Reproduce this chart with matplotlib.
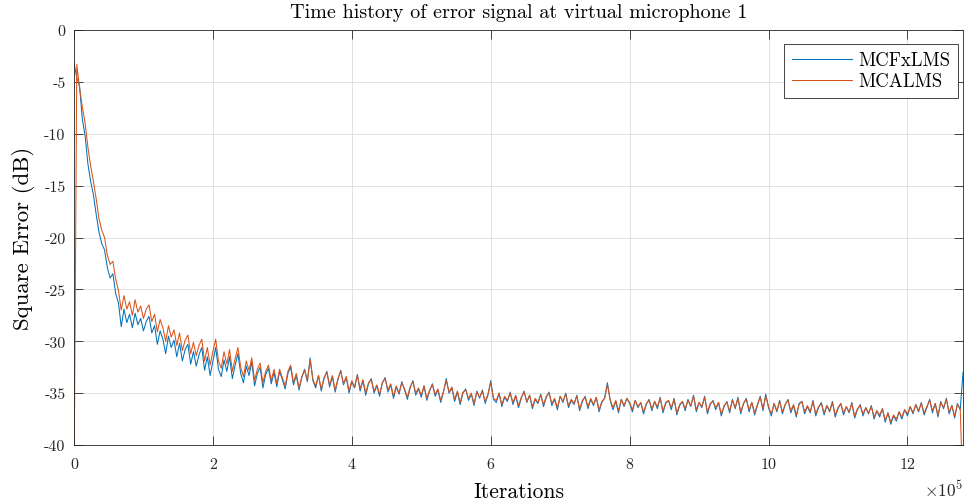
import numpy as np
import matplotlib
matplotlib.use("Agg")
import matplotlib.pyplot as plt

# ---- data ----
step = 4000  # iterations between samples
mcfxlms = [
    -3.2, -4.6, -5.4, -8.6, -10.2, -12.9, -14.6, -15.9, -17.8, -19.5,
    -20.6, -21.2, -22.9, -23.9, -23.5, -25.4, -26.3, -28.6, -26.9, -28.2,
    -27.4, -28.7, -27.3, -28.4, -27.8, -29.0, -28.1, -27.6, -29.2, -28.5,
    -30.3, -29.0, -29.8, -31.2, -29.5, -30.6, -29.9, -31.5, -30.2, -31.9,
    -30.8, -30.3, -32.2, -31.0, -32.4, -31.3, -30.6, -32.8, -31.5, -33.3,
    -31.9, -30.6, -32.7, -33.4, -31.8, -32.9, -31.5, -33.6, -32.3, -31.2,
    -33.1, -34.0, -32.4, -33.3, -32.0, -34.3, -33.1, -32.5, -34.5, -33.2,
    -32.6, -34.1, -33.0, -34.4, -32.9, -33.7, -34.6, -33.1, -32.5, -34.2,
    -33.3,
    -34.7, -33.5, -32.7, -33.9, -31.6, -33.8, -34.5, -33.3, -34.8, -33.6,
    -32.9, -34.4, -33.4, -34.9, -33.7, -32.8, -34.2, -33.5, -35.0, -33.9,
    -34.5, -33.2, -34.8, -33.8, -35.2, -34.1, -33.6, -35.0, -34.3, -35.3,
    -34.0, -33.5, -34.9, -34.2, -35.5, -34.4, -35.1, -33.9, -34.7, -35.6,
    -34.5, -33.8, -35.2, -34.6, -35.4, -34.3, -35.7, -34.8, -34.1, -35.3,
    -34.7, -35.9, -34.9, -33.6, -35.0, -34.5, -35.8, -34.9, -36.1, -35.0,
    -34.6, -35.7, -35.1, -36.2, -34.8, -35.5, -34.7, -36.0, -35.2, -33.8,
    -35.6, -35.9, -35.0, -36.3, -35.4, -35.8, -34.9, -36.1, -35.3, -36.4,
    -35.5, -34.8, -35.9, -35.2, -36.5, -35.6, -36.0, -35.1, -36.3, -35.4,
    -34.9, -36.2, -35.6, -36.6, -35.3, -35.9, -35.0, -36.4, -35.7, -36.1,
    -35.2, -36.7, -35.8, -35.3, -36.5, -35.6, -36.2, -35.4, -36.8, -35.9,
    -35.5, -34.0, -35.7, -36.6, -35.8, -36.9, -35.6, -36.3, -35.5, -36.0,
    -36.8, -35.7, -36.4, -35.9, -37.0, -36.1, -35.6, -36.7, -35.8, -36.5,
    -35.4, -36.9, -36.0, -35.7, -36.6, -35.5, -37.1, -36.2, -35.8, -36.7,
    -35.6, -36.3, -35.2, -36.8, -35.9, -36.4, -35.3, -37.0, -36.1, -35.7,
    -36.6, -35.9, -37.2, -36.3, -35.8, -36.9, -35.6, -36.5, -35.4, -37.0,
    -36.0, -35.5, -36.8, -35.9, -37.1, -36.2, -35.3, -36.7, -35.1, -36.4,
    -37.2, -36.0, -36.8, -35.7, -37.0, -36.1, -35.6, -36.9, -36.2, -37.3,
    -36.0, -35.8, -37.0, -36.3, -36.9, -35.7, -37.2, -36.4, -35.9, -37.1,
    -36.2, -36.8, -35.8, -37.3, -36.5, -36.0, -37.1, -36.3, -36.9, -35.9,
    -37.4, -36.6, -36.1, -37.2, -36.4, -37.0, -36.2, -37.5, -36.7, -37.3,
    -36.5, -37.8, -36.9, -38.0, -37.2, -37.7, -36.8, -37.5, -36.6, -37.2,
    -36.3, -37.0, -36.1, -36.8, -35.9, -37.1, -36.4, -35.6, -36.9, -36.0,
    -37.3, -35.8, -36.5, -35.5, -37.0, -36.2, -37.4, -36.0, -36.6, -33.0,
]
mcalms = [
    -45.0, -3.3, -5.6, -7.4, -9.0, -11.3, -13.1, -14.6, -16.3, -18.2,
    -19.3, -20.0, -21.7, -22.6, -22.3, -24.0, -25.1, -27.0, -25.6, -26.9,
    -26.2, -27.5, -26.0, -27.2, -26.6, -27.8, -26.9, -26.5, -28.1, -27.4,
    -29.1, -27.9, -28.7, -30.0, -28.5, -29.6, -28.9, -30.4, -29.2, -30.9,
    -29.9, -29.4, -31.2, -30.1, -31.4, -30.4, -29.8, -31.9, -30.6, -32.3,
    -31.0, -29.8, -31.9, -32.6, -31.0, -32.2, -30.8, -32.9, -31.7, -30.6,
    -32.5, -33.4, -31.9, -32.8, -31.6, -33.8, -32.7, -32.1, -34.0, -32.9,
    -32.3, -33.8, -32.7, -34.1, -32.7, -33.5, -34.3, -32.9, -32.3, -34.0,
    -33.1,
    -34.5, -33.4, -32.8, -33.8, -31.8, -33.7, -34.3, -33.3, -34.6, -33.5,
    -33.0, -34.2, -33.3, -34.7, -33.6, -32.9, -34.1, -33.4, -34.8, -33.8,
    -34.4, -33.3, -34.6, -33.7, -35.0, -34.0, -33.7, -34.8, -34.2, -35.1,
    -34.0, -33.6, -34.7, -34.1, -35.3, -34.3, -35.0, -34.0, -34.6, -35.4,
    -34.4, -33.9, -35.0, -34.5, -35.2, -34.3, -35.5, -34.7, -34.2, -35.1,
    -34.6, -35.7, -34.8, -33.8, -34.9, -34.4, -35.6, -34.8, -35.9, -34.9,
    -34.7, -35.5, -35.0, -36.0, -34.9, -35.4, -34.8, -35.8, -35.1, -34.0,
    -35.5, -35.7, -35.0, -36.1, -35.3, -35.7, -35.0, -35.9, -35.2, -36.2,
    -35.4, -34.9, -35.8, -35.2, -36.3, -35.5, -35.9, -35.2, -36.1, -35.3,
    -35.0, -36.0, -35.5, -36.4, -35.3, -35.8, -35.1, -36.2, -35.6, -36.0,
    -35.3, -36.5, -35.7, -35.4, -36.3, -35.5, -36.1, -35.4, -36.6, -35.8,
    -35.5, -34.2, -35.6, -36.4, -35.7, -36.7, -35.6, -36.2, -35.5, -35.9,
    -36.6, -35.7, -36.3, -35.9, -36.8, -36.0, -35.7, -36.5, -35.8, -36.3,
    -35.5, -36.7, -35.9, -35.7, -36.4, -35.6, -36.9, -36.1, -35.8, -36.5,
    -35.7, -36.2, -35.3, -36.6, -35.9, -36.3, -35.4, -36.8, -36.0, -35.8,
    -36.4, -35.9, -37.0, -36.2, -35.9, -36.7, -35.7, -36.4, -35.5, -36.8,
    -36.0, -35.6, -36.6, -35.9, -36.9, -36.1, -35.4, -36.5, -35.3, -36.3,
    -37.0, -36.0, -36.7, -35.8, -36.8, -36.1, -35.7, -36.7, -36.1, -37.1,
    -36.1, -35.8, -36.8, -36.2, -36.8, -35.8, -37.0, -36.3, -36.0, -36.9,
    -36.2, -36.7, -35.9, -37.1, -36.4, -36.0, -36.9, -36.3, -36.8, -36.0,
    -37.2, -36.5, -36.2, -37.0, -36.4, -36.9, -36.3, -37.3, -36.7, -37.1,
    -36.5, -37.6, -36.9, -37.8, -37.1, -37.5, -36.8, -37.3, -36.6, -37.0,
    -36.3, -36.9, -36.1, -36.7, -36.0, -36.9, -36.3, -35.7, -36.7, -36.0,
    -37.1, -35.9, -36.4, -35.6, -36.8, -36.2, -37.2, -36.1, -36.5, -45.0,
]
iter_fx = np.arange(len(mcfxlms)) * step
iter_al = np.arange(len(mcalms)) * step

xticks = [0, 200000, 400000, 600000, 800000, 1000000, 1200000]
xtick_labels = ["0", "2", "4", "6", "8", "10", "12"]
yticks = [0, -5, -10, -15, -20, -25, -30, -35, -40]
ytick_labels = ["0", "-5", "-10", "-15", "-20", "-25", "-30", "-35", "-40"]

plt.rcParams["font.family"] = ["cmr10", "DejaVu Serif"]
plt.rcParams["mathtext.fontset"] = "cm"
plt.rcParams["axes.unicode_minus"] = False
plt.rcParams["axes.formatter.use_mathtext"] = True

fig = plt.figure(figsize=(9.65, 5.02), dpi=100)
ax = fig.add_axes([74/965, 1-446/502, (963-74)/965, (446-31)/502])

ax.plot(iter_fx, mcfxlms, color="#0072BD", lw=0.75, label="MCFxLMS")
ax.plot(iter_al, mcalms, color="#D95319", lw=0.75, label="MCALMS")

ax.set_xlim(0, 1280000)
ax.set_ylim(-40, 0)
ax.set_xticks(xticks)
ax.set_xticklabels(xtick_labels)
ax.set_yticks(yticks)
ax.set_yticklabels(ytick_labels)
ax.tick_params(direction="in", length=6.5, width=0.6, top=True, right=True,
               labelsize=11.5, colors="#262626")
ax.tick_params(axis="x", pad=9)
ax.tick_params(axis="y", pad=6)
ax.grid(True, color="#dcdcdc", lw=0.6)
ax.set_axisbelow(True)
for s in ax.spines.values():
    s.set_color("#262626")
    s.set_linewidth(0.6)

ax.set_title("Time history of error signal at virtual microphone 1", fontsize=14.5, pad=9.5)
ax.set_xlabel("Iterations", fontsize=15.5, labelpad=7.5)
ax.set_ylabel("Square Error (dB)", fontsize=16.5, labelpad=7)
ax.text(1.0, -0.08, r"$\times10^{5}$", transform=ax.transAxes, ha="right",
        va="top", fontsize=12.5, color="#262626")

leg = ax.legend(loc="upper right", bbox_to_anchor=(1 - 5/889, 1 - 14/415),
                fontsize=13.5, fancybox=False, framealpha=1, edgecolor="#262626",
                handlelength=3.2, borderpad=0.4, labelspacing=0.15,
                handletextpad=0.35, borderaxespad=0)
leg.get_frame().set_linewidth(0.6)

fig.savefig("out.png", dpi=100)
